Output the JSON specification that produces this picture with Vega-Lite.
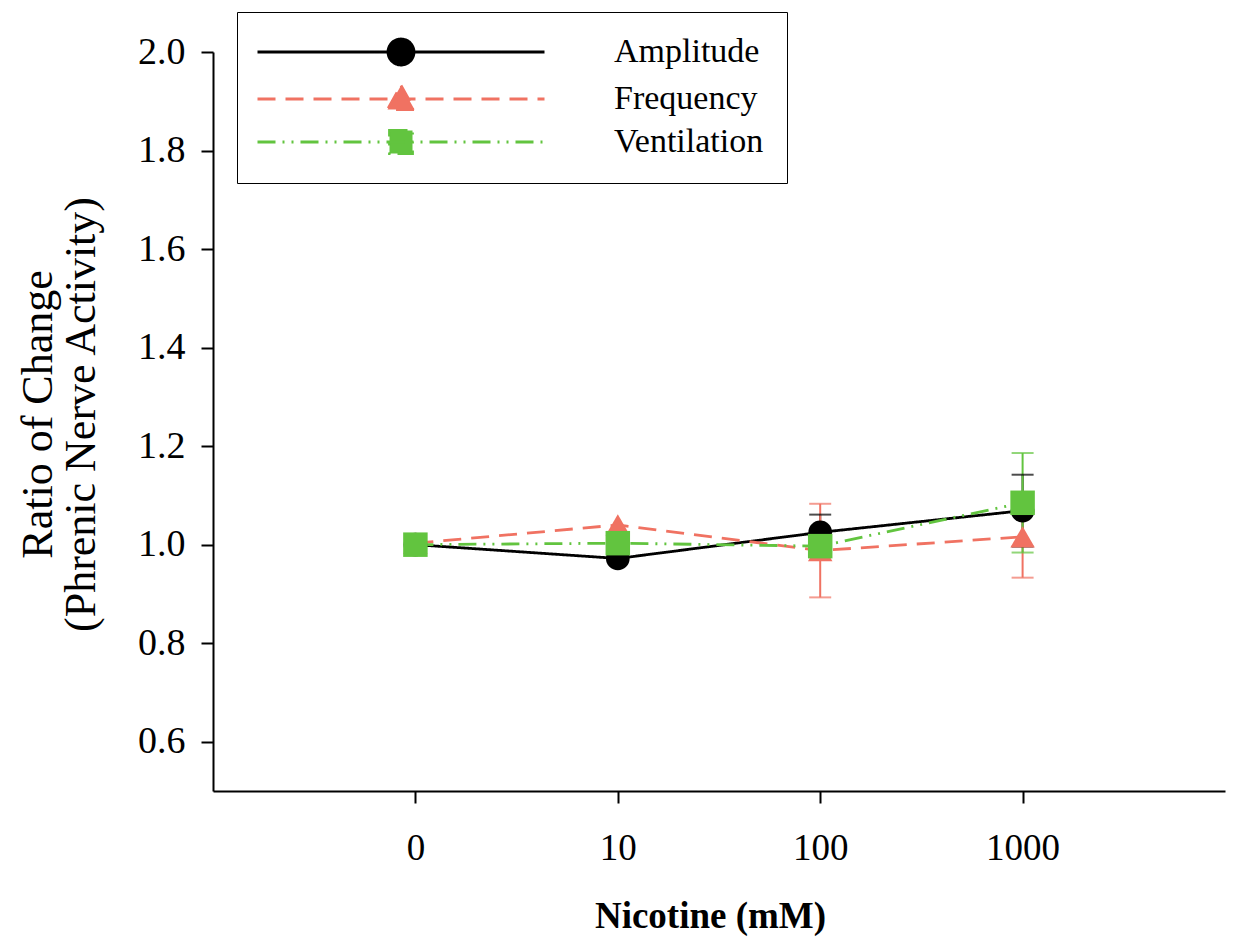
{
  "$schema": "https://vega.github.io/schema/vega-lite/v6.json",
  "width": 1012,
  "height": 739,
  "autosize": {"type": "none"},
  "padding": {"left": 213, "top": 52, "right": 13, "bottom": 154},
  "background": "white",
  "config": {
    "view": {"stroke": null},
    "font": "Liberation Serif",
    "axis": {
      "labelFont": "Liberation Serif",
      "titleFont": "Liberation Serif",
      "labelColor": "black",
      "titleColor": "black",
      "domainColor": "black",
      "tickColor": "black",
      "domainWidth": 2,
      "tickWidth": 2,
      "tickSize": 12,
      "grid": false
    }
  },
  "data": {
    "values": [
      {"series": "Amplitude", "dose": 0, "mean": 1.0, "lo": null, "hi": null},
      {"series": "Amplitude", "dose": 10, "mean": 0.972, "lo": null, "hi": null},
      {"series": "Amplitude", "dose": 100, "mean": 1.025, "lo": 0.989, "hi": 1.061},
      {"series": "Amplitude", "dose": 1000, "mean": 1.069, "lo": 0.996, "hi": 1.142},
      {"series": "Frequency", "dose": 0, "mean": 1.003, "lo": null, "hi": null},
      {"series": "Frequency", "dose": 10, "mean": 1.04, "lo": null, "hi": null},
      {"series": "Frequency", "dose": 100, "mean": 0.988, "lo": 0.893, "hi": 1.083},
      {"series": "Frequency", "dose": 1000, "mean": 1.016, "lo": 0.933, "hi": 1.099},
      {"series": "Ventilation", "dose": 0, "mean": 1.0, "lo": null, "hi": null},
      {"series": "Ventilation", "dose": 10, "mean": 1.003, "lo": null, "hi": null},
      {"series": "Ventilation", "dose": 100, "mean": 0.997, "lo": null, "hi": null},
      {"series": "Ventilation", "dose": 1000, "mean": 1.085, "lo": 0.984, "hi": 1.186}
    ]
  },
  "encoding": {
    "x": {
      "field": "dose",
      "type": "ordinal",
      "scale": {"type": "point", "padding": 1, "domain": [0, 10, 100, 1000]},
      "axis": {
        "title": "Nicotine (mM)",
        "labelAngle": 0,
        "labelFontSize": 37,
        "labelPadding": 27,
        "titleFontSize": 37,
        "titleFontWeight": "bold",
        "titleAlign": "center",
        "titleBaseline": "alphabetic",
        "titleX": 497,
        "titleY": 136
      }
    }
  },
  "layer": [
    {
      "transform": [{"filter": "isValid(datum.lo)"}],
      "mark": {"type": "rule", "strokeWidth": 2},
      "encoding": {
        "y": {"field": "lo", "type": "quantitative"},
        "y2": {"field": "hi"},
        "color": {"field": "series", "type": "nominal"}
      }
    },
    {
      "transform": [{"filter": "isValid(datum.lo)"}],
      "mark": {"type": "tick", "size": 22, "thickness": 2},
      "encoding": {
        "y": {"field": "lo", "type": "quantitative"},
        "color": {"field": "series", "type": "nominal"}
      }
    },
    {
      "transform": [{"filter": "isValid(datum.lo)"}],
      "mark": {"type": "tick", "size": 22, "thickness": 2},
      "encoding": {
        "y": {"field": "hi", "type": "quantitative"},
        "color": {"field": "series", "type": "nominal"}
      }
    },
    {
      "mark": {"type": "line", "strokeWidth": 2.8},
      "encoding": {
        "y": {
          "field": "mean",
          "type": "quantitative",
          "scale": {"domain": [0.5, 2.0], "nice": false, "zero": false},
          "axis": {
            "values": [0.6, 0.8, 1.0, 1.2, 1.4, 1.6, 1.8, 2.0],
            "format": ".1f",
            "labelFontSize": 38,
            "labelPadding": 16,
            "title": ["Ratio of Change", "(Phrenic Nerve Activity)"],
            "titleFontSize": 44,
            "titleFontWeight": "normal",
            "titleAngle": -90,
            "titleAlign": "center",
            "titleBaseline": "alphabetic",
            "titleLineHeight": 43,
            "titleX": -162,
            "titleY": 362
          }
        },
        "strokeDash": {
          "field": "series",
          "type": "nominal",
          "scale": {"domain": ["Amplitude", "Frequency", "Ventilation"], "range": [[1, 0], [18, 10], [18, 7, 2, 7, 2, 7]]},
          "legend": null
        },
        "color": {
          "field": "series",
          "type": "nominal",
          "scale": {"domain": ["Amplitude", "Frequency", "Ventilation"], "range": ["#000000", "#F07262", "#62C43F"]},
          "legend": {
            "orient": "none",
            "legendX": 24,
            "legendY": -40,
            "title": null,
            "padding": 23,
            "strokeColor": "black",
            "fillColor": "white",
            "symbolSize": 400,
            "symbolStrokeWidth": 2.8,
            "symbolOffset": 124,
            "labelOffset": 196,
            "labelFont": "Liberation Serif",
            "labelFontSize": 34,
            "labelColor": "black",
            "rowPadding": 8,
            "encode": {
              "symbols": {
                "update": {
                  "shape": {"signal": "datum.value === 'Amplitude' ? 'M-14.35,0H14.35M-1.3,0A1.3,1.3,0,1,0,1.3,0A1.3,1.3,0,1,0,-1.3,0Z' : datum.value === 'Frequency' ? 'M-14.35,0H14.35M0,-1.35L1.35,1.05L-1.35,1.05Z' : 'M-14.35,0H14.35M-1.15,-1.15H1.15V1.15H-1.15Z'"},
                  "fill": {"signal": "datum.value === 'Amplitude' ? '#000000' : datum.value === 'Frequency' ? '#F07262' : '#62C43F'"},
                  "stroke": {"signal": "datum.value === 'Amplitude' ? '#000000' : datum.value === 'Frequency' ? '#F07262' : '#62C43F'"},
                  "strokeDash": {"signal": "datum.value === 'Amplitude' ? [1, 0] : datum.value === 'Frequency' ? [18, 10] : [18, 7, 2, 7, 2, 7]"},
                  "strokeWidth": {"value": 2.8},
                  "size": {"value": 400},
                  "opacity": {"value": 1}
                }
              }
            }
          }
        }
      }
    },
    {
      "transform": [{"filter": "datum.series === 'Amplitude'"}],
      "mark": {"type": "point", "shape": "circle", "filled": true, "opacity": 1, "size": 560},
      "encoding": {
        "y": {"field": "mean", "type": "quantitative"},
        "color": {"field": "series", "type": "nominal"}
      }
    },
    {
      "transform": [{"filter": "datum.series === 'Frequency'"}],
      "mark": {"type": "point", "shape": "triangle-up", "filled": true, "opacity": 1, "size": 600},
      "encoding": {
        "y": {"field": "mean", "type": "quantitative"},
        "color": {"field": "series", "type": "nominal"}
      }
    },
    {
      "transform": [{"filter": "datum.series === 'Ventilation'"}],
      "mark": {"type": "point", "shape": "square", "filled": true, "opacity": 1, "size": 600},
      "encoding": {
        "y": {"field": "mean", "type": "quantitative"},
        "color": {"field": "series", "type": "nominal"}
      }
    }
  ]
}
